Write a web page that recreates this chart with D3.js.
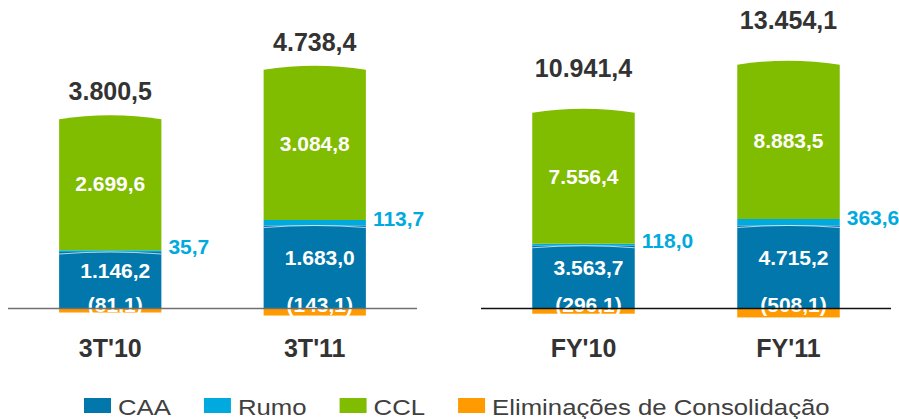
<!DOCTYPE html>
<html>
<head>
<meta charset="utf-8">
<script src="https://cdn.jsdelivr.net/npm/d3@7"></script>
<style>
  body { margin: 0; background: #fff; }
  svg { display: block; font-family: Arial, "Liberation Sans", sans-serif; }
</style>
</head>
<body>
<div id="chart"></div>
<script>
// values (R$ MM)
var periods3T = ["3T'10", "3T'11"];
var caa3T = [1146.2, 1683.0];
var rumo3T = [35.7, 113.7];
var ccl3T = [2699.6, 3084.8];
var elim3T = [-81.1, -143.1];
var total3T = [3800.5, 4738.4];

var periodsFY = ["FY'10", "FY'11"];
var caaFY = [3563.7, 4715.2];
var rumoFY = [118.0, 363.6];
var cclFY = [7556.4, 8883.5];
var elimFY = [-296.1, -508.1];
var totalFY = [10941.4, 13454.1];

var legendNames = ["CAA", "Rumo", "CCL", "Eliminações de Consolidação"];

var colors = { caa: "#0277ab", rumo: "#00aade", ccl: "#80bc00", elim: "#ff9a00" };

var width = 899, height = 419;

var br = d3.formatLocale({ decimal: ",", thousands: ".", grouping: [3], currency: ["R$", ""] });
var fmt = br.format(",.1f");
function label(v) { return v < 0 ? "(" + fmt(-v) + ")" : fmt(v); }

var svg = d3.select("#chart").append("svg")
    .attr("width", width)
    .attr("height", height);

function segPath(x0, w, yTop, yBot, arc) {
    return "M" + x0 + "," + yBot + "L" + x0 + "," + (yTop + arc / 2) +
        "Q" + (x0 + w / 2) + "," + (yTop - 1.5 * arc) + " " + (x0 + w) + "," + (yTop + arc / 2) +
        "L" + (x0 + w) + "," + yBot + "Z";
}

function drawPanel(opt) {
    var data = opt.periods.map(function(p, i) {
        return { period: p, caa: opt.caa[i], rumo: opt.rumo[i], ccl: opt.ccl[i], elim: opt.elim[i], total: opt.total[i] };
    });

    var x = d3.scaleBand().domain(opt.periods).range(opt.xRange).paddingInner(0.5).paddingOuter(0.25);
    var y = d3.scaleLinear().domain([0, opt.yMax]).range([308.5, 62]);
    var bw = x.bandwidth();

    var g = svg.append("g");

    var bars = g.selectAll(".bar").data(data).enter().append("g").attr("class", "bar");

    // eliminations below zero
    bars.append("rect")
        .attr("x", function(d) { return x(d.period); })
        .attr("y", y(0))
        .attr("width", bw)
        .attr("height", function(d) { return y(d.elim) - y(0); })
        .attr("fill", colors.elim);

    // CAA
    bars.append("path")
        .attr("d", function(d) { return segPath(x(d.period), bw, y(d.caa), y(0), 0); })
        .attr("fill", colors.caa);

    // Rumo
    bars.append("path")
        .attr("d", function(d) { return segPath(x(d.period), bw, y(d.caa + d.rumo), y(d.caa), 0); })
        .attr("fill", colors.rumo);

    // thin highlight on top of CAA
    bars.append("path")
        .attr("d", function(d) {
            var x0 = x(d.period), yt = y(d.caa) + 1;
            return "M" + x0 + "," + (yt + 1) + "Q" + (x0 + bw / 2) + "," + (yt - 3) + " " + (x0 + bw) + "," + (yt + 1);
        })
        .attr("fill", "none")
        .attr("stroke", "#fff")
        .attr("stroke-opacity", 0.7)
        .attr("stroke-width", 1);

    // CCL with rounded cylinder top
    bars.append("path")
        .attr("d", function(d) { return segPath(x(d.period), bw, y(d.caa + d.rumo + d.ccl), y(d.caa + d.rumo), 4); })
        .attr("fill", colors.ccl);

    // baseline
    g.append("line")
        .attr("x1", opt.xRange[0]).attr("x2", opt.xRange[1])
        .attr("y1", y(0)).attr("y2", y(0))
        .attr("stroke", opt.lineColor)
        .attr("stroke-width", 1.3);

    var cx = function(d) { return x(d.period) + bw / 2; };

    // segment labels
    bars.append("text")
        .attr("x", cx)
        .attr("y", function(d) { return (y(d.caa + d.rumo) + y(d.caa + d.rumo + d.ccl)) / 2 + 7; })
        .attr("text-anchor", "middle")
        .attr("fill", "#fff").attr("font-weight", "bold").attr("font-size", "21px")
        .text(function(d) { return label(d.ccl); });

    bars.append("text")
        .attr("x", function(d) { return cx(d) + 5; })
        .attr("y", function(d) { return (y(0) + y(d.caa)) / 2 - 2; })
        .attr("text-anchor", "middle")
        .attr("fill", "#fff").attr("font-weight", "bold").attr("font-size", "21px")
        .text(function(d) { return label(d.caa); });

    bars.append("text")
        .attr("x", function(d) { return cx(d) + 5; })
        .attr("y", y(0) + 3)
        .attr("text-anchor", "middle")
        .attr("fill", "#fff").attr("font-weight", "bold").attr("font-size", "21px")
        .text(function(d) { return label(d.elim); });

    bars.append("text")
        .attr("x", function(d) { return x(d.period) + bw + 7; })
        .attr("y", function(d) { return (y(d.caa) + y(d.caa + d.rumo)) / 2 + 3; })
        .attr("fill", colors.rumo).attr("font-weight", "bold").attr("font-size", "21px")
        .text(function(d) { return label(d.rumo); });

    // totals
    bars.append("text")
        .attr("x", cx)
        .attr("y", function(d) { return y(d.caa + d.rumo + d.ccl) - opt.totalGap; })
        .attr("text-anchor", "middle")
        .attr("fill", "#333").attr("font-weight", "bold").attr("font-size", "25px")
        .text(function(d) { return label(d.total); });

    // category labels
    g.selectAll(".xlab").data(data).enter().append("text")
        .attr("x", cx)
        .attr("y", 357)
        .attr("text-anchor", "middle")
        .attr("fill", "#333").attr("font-weight", "bold").attr("font-size", "25px")
        .text(function(d) { return d.period; });
}

drawPanel({ periods: periods3T, caa: caa3T, rumo: rumo3T, ccl: ccl3T, elim: elim3T, total: total3T,
    xRange: [8, 417], yMax: 5000, totalGap: 17, lineColor: "#707070" });
drawPanel({ periods: periodsFY, caa: caaFY, rumo: rumoFY, ccl: cclFY, elim: elimFY, total: totalFY,
    xRange: [481, 891], yMax: 14000, totalGap: 34, lineColor: "#111" });

// Legend
var legendColors = [colors.caa, colors.rumo, colors.ccl, colors.elim];
var lx = 84;
legendNames.forEach(function(name, i) {
    svg.append("rect")
        .attr("x", lx).attr("y", 398)
        .attr("width", 27).attr("height", 15)
        .attr("fill", legendColors[i]);
    var t = svg.append("text")
        .attr("transform", "translate(" + (lx + 34) + ",415) scale(1.17,1)")
        .attr("fill", "#404040")
        .attr("font-size", "22px")
        .text(name);
    lx += 34 + t.node().getComputedTextLength() * 1.17 + 33;
});
</script>
</body>
</html>
